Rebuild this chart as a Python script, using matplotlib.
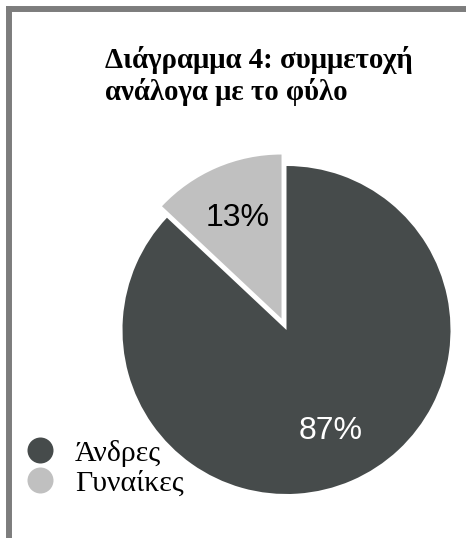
import matplotlib
matplotlib.use("Agg")
import matplotlib.pyplot as plt

# participation by gender
labels = ["Γυναίκες", "Άνδρες"]
shares = [13, 87]
colors = ["#c0c0c0", "#464b4b"]
pct_colors = ["black", "white"]

title_lines = ["Διάγραμμα 4: συμμετοχή", "ανάλογα με το φύλο"]
legend_order = ["Άνδρες", "Γυναίκες"]

W, H = 466, 538
fig = plt.figure(figsize=(W / 100, H / 100), dpi=100)
# axes spans the whole canvas, data units = pixels (y measured from bottom)
ax = fig.add_axes([0, 0, 1, 1])

radius = 164
center = (286.5, H - 330)

wedges, texts, autotexts = ax.pie(
    shares,
    colors=colors,
    startangle=90,
    counterclock=True,
    explode=[12.5, 0],
    radius=radius,
    center=center,
    autopct="%d%%",
    pctdistance=0.67,
    textprops=dict(family="Liberation Sans", fontsize=23),
)
for t, c in zip(autotexts, pct_colors):
    t.set_color(c)

ax.set_xlim(0, W)
ax.set_ylim(0, H)
ax.set_aspect("equal")
ax.axis("off")

# frame lines on top and left
ax.plot([6, W], [H - 9, H - 9], color="#7d7d7d", lw=4.3, solid_capstyle="butt")
ax.plot([9, 9], [H - 6, 0], color="#7d7d7d", lw=4.3, solid_capstyle="butt")

# title
for i, line in enumerate(title_lines):
    ax.text(105, H - 68 - i * 31.5, line, family="Liberation Serif",
            fontweight="bold", fontsize=20.8, va="baseline", ha="left")

# legend
col = dict(zip(labels, colors))
for i, lab in enumerate(legend_order):
    y = H - 450 - i * 30
    ax.scatter([40], [y], s=(26 * 0.72) ** 2, color=col[lab], linewidths=0)
    ax.text(75, H - 461 - i * 29.5, lab, family="Liberation Serif",
            fontsize=21.5, va="baseline", ha="left")

fig.savefig("out.png", dpi=100)
